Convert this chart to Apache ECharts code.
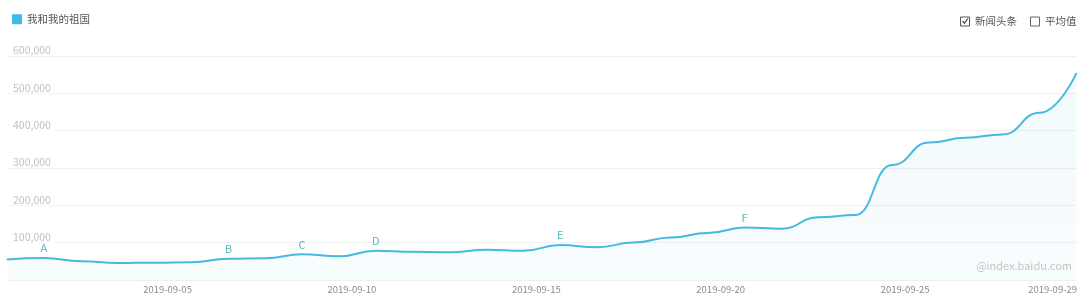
<!DOCTYPE html>
<html>
<head>
<meta charset="utf-8">
<script src="https://cdn.jsdelivr.net/npm/echarts@6/dist/echarts.min.js"></script>
<style>
html,body{margin:0;padding:0;background:#fff;}
#chart{width:1080px;height:300px;}
</style>
</head>
<body>
<div id="chart"></div>
<script>
const seriesName = '我和我的祖国';
const dates = [
  '2019-09-01','2019-09-02','2019-09-03','2019-09-04','2019-09-05','2019-09-06',
  '2019-09-07','2019-09-08','2019-09-09','2019-09-10','2019-09-11','2019-09-12',
  '2019-09-13','2019-09-14','2019-09-15','2019-09-16','2019-09-17','2019-09-18',
  '2019-09-19','2019-09-20','2019-09-21','2019-09-22','2019-09-23','2019-09-24',
  '2019-09-25','2019-09-26','2019-09-27','2019-09-28','2019-09-29','2019-09-30'
];
const values = [
  55000, 59000, 50500, 45500, 46400, 47300,
  57000, 58000, 68800, 63500, 78500, 75800,
  74200, 81200, 78500, 93800, 87600, 100500,
  113900, 125900, 140600, 137400, 168000, 174000,
  308000, 368000, 381000, 390000, 448000, 554000
];
const tickDates = ['2019-09-05','2019-09-10','2019-09-15','2019-09-20','2019-09-25','2019-09-29'];
const markLetters = ['A','B','C','D','E','F'];
const markDates = ['2019-09-02','2019-09-07','2019-09-09','2019-09-11','2019-09-16','2019-09-21'];
const yTicks = [0, 100000, 200000, 300000, 400000, 500000, 600000];
const toggleLabels = ['新闻头条', '平均值'];
const watermark = '@index.baidu.com';

const FONT = '"Noto Sans CJK SC", sans-serif';
const seriesData = values.map(function (v, i) {
  const k = markDates.indexOf(dates[i]);
  if (k < 0) return v;
  return {
    value: v,
    label: { show: true, formatter: markLetters[k] }
  };
});

const chart = echarts.init(document.getElementById('chart'), null, { renderer: 'canvas' });
chart.setOption({
  animation: false,
  backgroundColor: '#ffffff',
  textStyle: { fontFamily: FONT },
  legend: {
    left: 12, top: 14, padding: 0,
    icon: 'rect', itemWidth: 10, itemHeight: 10, itemGap: 10,
    selectedMode: false,
    textStyle: { color: '#555555', fontSize: 10.5, fontFamily: FONT },
    data: [seriesName]
  },
  grid: { left: 7, right: 0, top: 56, bottom: 20, containLabel: false },
  xAxis: {
    type: 'category',
    data: dates,
    boundaryGap: false,
    axisLine: { show: false },
    axisTick: { show: false },
    splitLine: { show: false },
    axisLabel: {
      margin: 5,
      color: '#8a8a8a',
      fontSize: 9.5,
      fontFamily: FONT,
      padding: [0, 0, 0, 26],
      interval: function (idx, val) { return tickDates.indexOf(val) >= 0; }
    }
  },
  yAxis: {
    type: 'value',
    min: yTicks[0],
    max: yTicks[yTicks.length - 1],
    interval: yTicks[1] - yTicks[0],
    axisLine: { show: false },
    axisTick: { show: false },
    splitLine: { lineStyle: { color: '#eeeff1', width: 1 } },
    axisLabel: {
      inside: true,
      margin: 0,
      color: '#c2c2c2',
      fontSize: 10.5,
      fontFamily: FONT,
      verticalAlign: 'bottom',
      lineHeight: 11,
      backgroundColor: '#ffffff',
      padding: [0, 6, 0, 6],
      showMinLabel: false,
      formatter: function (v) { return v === 0 ? '' : v.toLocaleString('en-US'); }
    },
    z: 1
  },
  series: [{
    name: seriesName,
    type: 'line',
    data: seriesData,
    smooth: 0.5,
    smoothMonotone: 'x',
    showSymbol: true,
    symbol: 'circle',
    symbolSize: 1,
    itemStyle: { color: '#3cbde9' },
    lineStyle: { color: '#45bade', width: 2 },
    areaStyle: {
      color: {
        type: 'linear', x: 0, y: 0, x2: 0, y2: 1,
        colorStops: [
          { offset: 0, color: 'rgba(68,185,221,0.09)' },
          { offset: 1, color: 'rgba(68,185,221,0.06)' }
        ]
      }
    },
    label: {
      show: false,
      position: 'top',
      distance: 4,
      color: '#55b8c0',
      fontSize: 11,
      fontFamily: FONT
    },
    emphasis: { disabled: true },
    z: 3
  }],
  graphic: [
    {
      type: 'rect', left: 960, top: 16.5,
      shape: { x: 0, y: 0, width: 9, height: 9 },
      style: { fill: '#fff', stroke: '#555', lineWidth: 1 }
    },
    {
      type: 'polyline',
      shape: { points: [[962.5, 21], [964.5, 23.3], [967.8, 18.5]] },
      style: { fill: null, stroke: '#444', lineWidth: 1.2 }
    },
    {
      type: 'text', left: 975, top: 15.5,
      style: { text: toggleLabels[0], fill: '#555', fontSize: 10.5, fontFamily: FONT }
    },
    {
      type: 'rect', left: 1030, top: 16.5,
      shape: { x: 0, y: 0, width: 9, height: 9 },
      style: { fill: '#fff', stroke: '#666', lineWidth: 1 }
    },
    {
      type: 'text', left: 1045, top: 15.5,
      style: { text: toggleLabels[1], fill: '#555', fontSize: 10.5, fontFamily: FONT }
    },
    {
      type: 'text', right: 8, top: 260, z: 10,
      style: { text: watermark, fill: '#c4c4c4', fontSize: 11, fontFamily: FONT }
    }
  ]
});
</script>
</body>
</html>
